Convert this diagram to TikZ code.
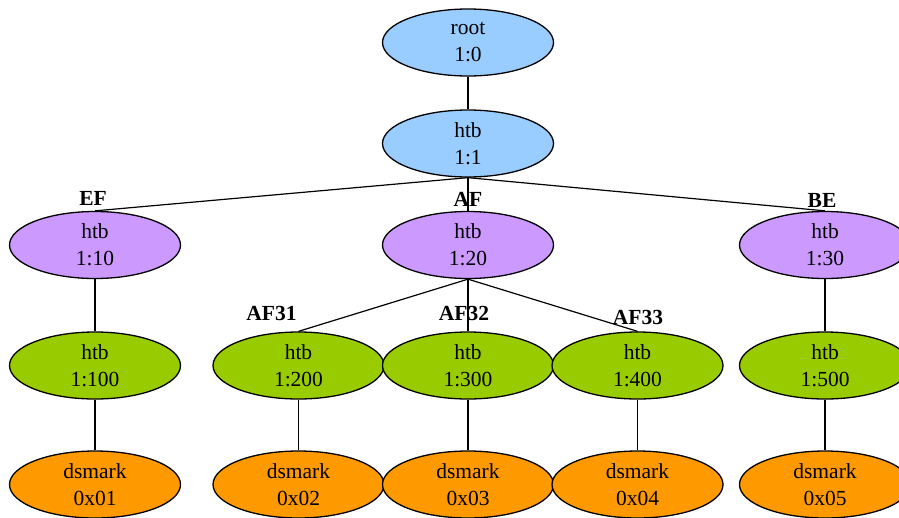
\documentclass[tikz,border=0pt]{standalone}
\usepackage{fontspec}
\setmainfont{Liberation Serif}
\usepackage{tikz}
\usetikzlibrary{shapes.geometric}

\definecolor{qblue}{HTML}{99CCFF}
\definecolor{qpurple}{HTML}{CC99FF}
\definecolor{qgreen}{HTML}{99CC00}
\definecolor{qorange}{HTML}{FF9900}

\begin{document}
\begin{tikzpicture}[
        x=1pt, y=-1pt,
        qdisc/.style={ellipse, draw, line width=1.3pt, inner sep=0pt, minimum width=171pt, minimum height=67pt, align=center, font=\fontsize{21.5}{27}\selectfont},
        cls/.style={font=\fontsize{21.5}{25}\selectfont\bfseries, anchor=base},
        edge/.style={draw, line width=1.2pt}
      ]
      \useasboundingbox (0,0) rectangle (899,517);

      % root and top-level htb
      \node[qdisc, fill=qblue] (root) at (468, 42.5) {root\\1:0};
      \node[qdisc, fill=qblue] (htb1) at (468, 143.5) {htb\\1:1};

      % classes
      \node[qdisc, fill=qpurple] (htb10) at (95, 245) {htb\\1:10};
      \node[qdisc, fill=qpurple] (htb20) at (468, 245) {htb\\1:20};
      \node[qdisc, fill=qpurple] (htb30) at (825, 245) {htb\\1:30};

      \node[qdisc, fill=qgreen] (htb100) at (95, 365.5) {htb\\1:100};
      \node[qdisc, fill=qgreen] (htb200) at (298.5, 365.5) {htb\\1:200};
      \node[qdisc, fill=qgreen] (htb300) at (468, 365.5) {htb\\1:300};
      \node[qdisc, fill=qgreen] (htb400) at (637.5, 365.5) {htb\\1:400};
      \node[qdisc, fill=qgreen] (htb500) at (825, 365.5) {htb\\1:500};

      % dsmark leaves
      \node[qdisc, fill=qorange] (ds1) at (95, 484.5) {dsmark\\0x01};
      \node[qdisc, fill=qorange] (ds2) at (298.5, 484.5) {dsmark\\0x02};
      \node[qdisc, fill=qorange] (ds3) at (468, 484.5) {dsmark\\0x03};
      \node[qdisc, fill=qorange] (ds4) at (637.5, 484.5) {dsmark\\0x04};
      \node[qdisc, fill=qorange] (ds5) at (825, 484.5) {dsmark\\0x05};

      % edges
      \path[edge] (root.south) -- (htb1.north);
      \path[edge] (htb1.south) -- (htb10.north);
      \path[edge] (htb1.south) -- (htb20.north);
      \path[edge] (htb1.south) -- (htb30.north);
      \path[edge] (htb10.south) -- (htb100.north);
      \path[edge] (htb20.south) -- (htb200.north);
      \path[edge] (htb20.south) -- (htb300.north);
      \path[edge] (htb20.south) -- (htb400.north);
      \path[edge] (htb30.south) -- (htb500.north);
      \path[edge] (htb100.south) -- (ds1.north);
      \path[edge] (htb200.south) -- (ds2.north);
      \path[edge] (htb300.south) -- (ds3.north);
      \path[edge] (htb400.south) -- (ds4.north);
      \path[edge] (htb500.south) -- (ds5.north);

      % class labels
      \node[cls] (ef) at (93, 205) {EF};
      \node[cls] (af) at (468, 206) {AF};
      \node[cls] (be) at (822, 207) {BE};
      \node[cls] (af31) at (271.5, 320) {AF31};
      \node[cls] (af32) at (464, 320) {AF32};
      \node[cls] (af33) at (638, 324) {AF33};

    \end{tikzpicture}
\end{document}
